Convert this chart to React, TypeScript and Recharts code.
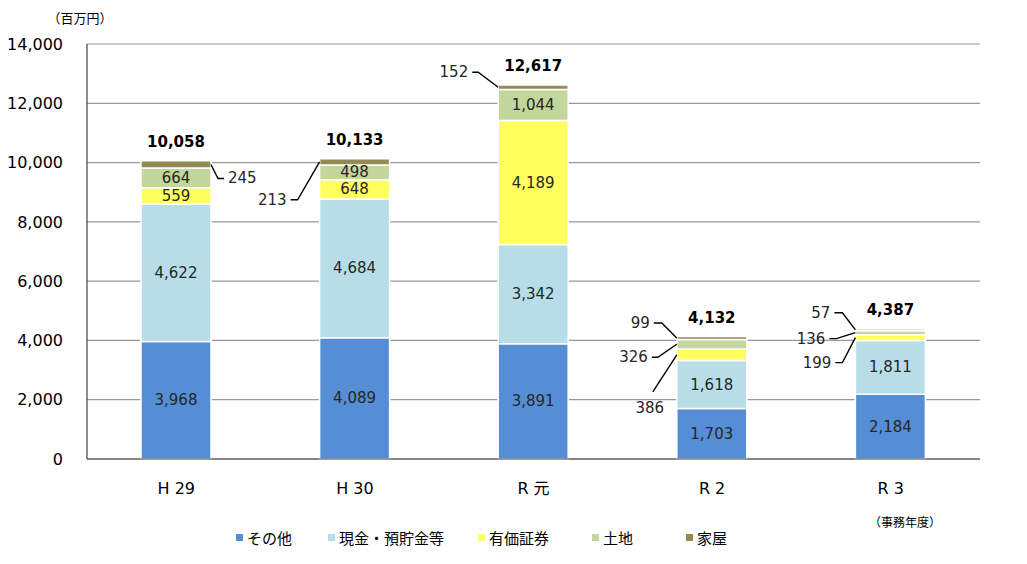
import React from 'react';
import { BarChart, Bar, XAxis, YAxis, CartesianGrid, Legend, LabelList, Label } from 'recharts';

const categories = ['H 29', 'H 30', 'R 元', 'R 2', 'R 3'];
const sonota = [3968, 4089, 3891, 1703, 2184];
const genkin = [4622, 4684, 3342, 1618, 1811];
const yuka = [559, 648, 4189, 386, 199];
const tochi = [664, 498, 1044, 326, 136];
const kaoku = [245, 213, 152, 99, 57];
const totals = [10058, 10133, 12617, 4132, 4387];
const yTicks = [0, 2000, 4000, 6000, 8000, 10000, 12000, 14000];

const SERIES = [
  { key: 'sonota', name: 'その他', color: '#558ED5' },
  { key: 'genkin', name: '現金・預貯金等', color: '#B7DEE8' },
  { key: 'yuka', name: '有価証券', color: '#FFFF5E' },
  { key: 'tochi', name: '土地', color: '#C3D69B' },
  { key: 'kaoku', name: '家屋', color: '#948A54' },
];

const data = categories.map((name, i) => ({
  name,
  sonota: sonota[i],
  genkin: genkin[i],
  yuka: yuka[i],
  tochi: tochi[i],
  kaoku: kaoku[i],
  total: totals[i],
}));

const FONT = "'DejaVu Sans', 'Noto Sans CJK JP', sans-serif";
const JP_FONT = "'Noto Sans CJK JP', sans-serif";

// leader-line callouts for segments too thin to hold their own value
// side: which bar edge the line starts from, e: elbow offset, f: horizontal tail
type Callout = { side: 'left' | 'right'; ex: number; ey: number; fx: number; tdx?: number; tdy?: number; mid?: boolean };
const CALLOUTS: Record<string, Callout> = {
  'kaoku-0': { side: 'right', ex: 7, ey: 14, fx: 6 },
  'kaoku-1': { side: 'left', ex: -22, ey: 38, fx: -7 },
  'kaoku-2': { side: 'left', ex: -20, ey: -15, fx: -6 },
  'kaoku-3': { side: 'left', ex: -15, ey: -15, fx: -8 },
  'tochi-3': { side: 'left', ex: -19, ey: 13, fx: -6 },
  'yuka-3': { side: 'left', ex: -24, ey: 37, fx: 0, mid: true, tdx: -3, tdy: 16 },
  'kaoku-4': { side: 'left', ex: -13, ey: -17, fx: -8 },
  'tochi-4': { side: 'left', ex: -19, ey: 6, fx: -7 },
  'yuka-4': { side: 'left', ex: -13, ey: 25, fx: -7 },
};

const fmt = (v: any) => Number(v).toLocaleString('en-US');

const segmentLabel = (series: string) => (props: any) => {
  const x = Number(props.x);
  const y = Number(props.y);
  const width = Number(props.width);
  const height = Number(props.height);
  const c = CALLOUTS[`${series}-${props.index}`];
  if (!c) {
    if (series === 'kaoku') return null;
    return (
      <text
        x={x + width / 2}
        y={y + height / 2}
        textAnchor="middle"
        dominantBaseline="central"
        fontFamily={FONT}
        fontSize={15}
        fill="#262626"
      >
        {fmt(props.value)}
      </text>
    );
  }
  const ax = c.side === 'right' ? x + width : x;
  const ay = y + height / 2;
  const ex = ax + c.ex;
  const ey = ay + c.ey;
  const fx = ex + c.fx;
  const tx = c.mid ? fx + (c.tdx || 0) : fx + (c.fx >= 0 ? 4 : -4);
  const ty = ey + (c.tdy || 0);
  return (
    <g>
      <polyline points={`${ax},${ay} ${ex},${ey} ${fx},${ey}`} fill="none" stroke="#000" strokeWidth={1.4} />
      <text
        x={tx}
        y={ty}
        textAnchor={c.mid ? 'middle' : c.fx >= 0 ? 'start' : 'end'}
        dominantBaseline="central"
        fontFamily={FONT}
        fontSize={15}
        fill="#262626"
      >
        {fmt(props.value)}
      </text>
    </g>
  );
};

const totalLabel = (props: any) => {
  const x = Number(props.x);
  const y = Number(props.y);
  const width = Number(props.width);
  return (
    <text
      x={x + width / 2}
      y={y - 19}
      textAnchor="middle"
      dominantBaseline="central"
      fontFamily={FONT}
      fontSize={15}
      fontWeight="bold"
      fill="#000"
    >
      {fmt(props.value)}
    </text>
  );
};

const LEGEND_WIDTHS = [92, 150, 114, 94, 60];

const renderLegend = () => (
  <div style={{ display: 'flex', alignItems: 'center', fontFamily: JP_FONT, fontSize: 15, color: '#000' }}>
    {SERIES.map((s, i) => (
      <div key={s.key} style={{ display: 'flex', alignItems: 'center', width: LEGEND_WIDTHS[i] }}>
        <span style={{ width: 7, height: 7, background: s.color, marginRight: 4, display: 'inline-block' }} />
        <span style={{ whiteSpace: 'nowrap' }}>{s.name}</span>
      </div>
    ))}
  </div>
);

export default function App() {
  return (
    <BarChart
      width={1011}
      height={548}
      data={data}
      margin={{ top: 36, right: 39, left: 0, bottom: 37 }}
      barSize={70}
    >
      <CartesianGrid vertical={false} stroke="#999999" strokeWidth={1.2} />
      <XAxis
        dataKey="name"
        height={60}
        tickLine={false}
        tickSize={0}
        tickMargin={24}
        axisLine={{ stroke: '#404040', strokeWidth: 1.2 }}
        tick={{ fontFamily: FONT, fontSize: 16, fill: '#000' }}
      >
        <Label
          content={(p: any) => {
            const vb = p.viewBox;
            return (
              <text x={vb.x + vb.width - 75} y={vb.y + 62} textAnchor="middle" dominantBaseline="central" fontFamily={JP_FONT} fontSize={12} fill="#000">
                （事務年度）
              </text>
            );
          }}
        />
      </XAxis>
      <YAxis
        width={79}
        domain={[0, 14000]}
        ticks={yTicks}
        tickLine={false}
        tickSize={0}
        tickMargin={24}
        tickFormatter={fmt}
        axisLine={{ stroke: '#404040', strokeWidth: 1.2 }}
        tick={{ fontFamily: FONT, fontSize: 16, fill: '#000' }}
      >
        <Label
          content={(p: any) => {
            const vb = p.viewBox;
            return (
              <text x={vb.x + vb.width - 7} y={vb.y - 27} textAnchor="middle" dominantBaseline="central" fontFamily={JP_FONT} fontSize={13} fill="#000">
                （百万円）
              </text>
            );
          }}
        />
      </YAxis>
      <Legend
        layout="horizontal"
        verticalAlign="middle"
        align="center"
        content={renderLegend}
        wrapperStyle={{ top: 519, left: 228, width: 520, height: 20 }}
      />
      {SERIES.map((s) => (
        <Bar
          key={s.key}
          dataKey={s.key}
          name={s.name}
          stackId="a"
          fill={s.color}
          stroke="#fff"
          strokeWidth={1.5}
          isAnimationActive={false}
        >
          <LabelList dataKey={s.key} content={segmentLabel(s.key)} />
          {s.key === 'kaoku' && <LabelList dataKey="total" content={totalLabel} />}
        </Bar>
      ))}
    </BarChart>
  );
}
